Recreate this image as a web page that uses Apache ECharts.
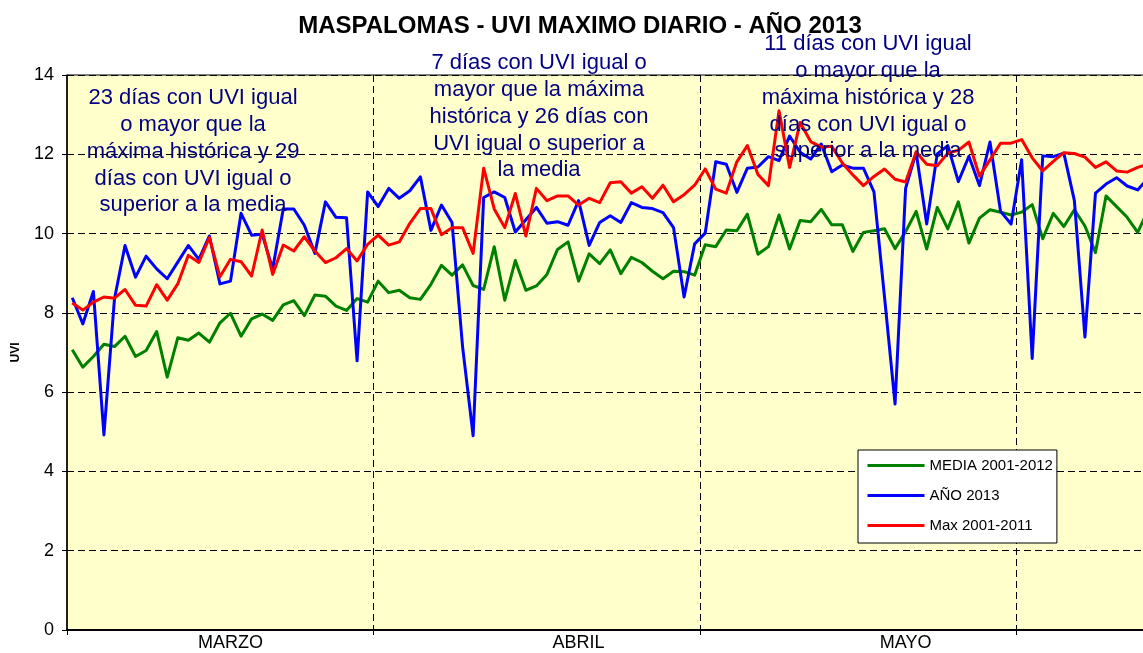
<!DOCTYPE html>
<html>
<head>
<meta charset="utf-8">
<title>Maspalomas UVI 2013</title>
<script src="https://cdn.jsdelivr.net/npm/echarts@6/dist/echarts.min.js"></script>
<style>
  html, body { margin: 0; padding: 0; overflow: hidden; background: #fff; }
  #chart { width: 1160px; height: 653px; }
</style>
</head>
<body>
<div id="chart"></div>
<script>
// datos diarios (1 punto por dia)
const media = [7.07, 6.63, 6.9, 7.21, 7.15, 7.41, 6.9, 7.05, 7.53, 6.38,
  7.37, 7.31, 7.49, 7.26, 7.75, 7.99, 7.41, 7.85, 7.97, 7.81,
  8.2, 8.31, 7.93, 8.45, 8.42, 8.17, 8.06, 8.36, 8.27, 8.8,
  8.51, 8.57, 8.38, 8.34, 8.72, 9.2, 8.95, 9.21, 8.69, 8.59,
  9.67, 8.32, 9.32, 8.57, 8.68, 8.97, 9.6, 9.79, 8.8, 9.49,
  9.24, 9.59, 8.99, 9.4, 9.27, 9.05, 8.86, 9.05, 9.04, 8.95,
  9.72, 9.67, 10.09, 10.07, 10.49, 9.48, 9.67, 10.47, 9.61, 10.33,
  10.3, 10.61, 10.22, 10.22, 9.55, 10.03, 10.07, 10.12, 9.62, 10.05,
  10.56, 9.61, 10.66, 10.12, 10.8, 9.76, 10.39, 10.6, 10.54, 10.47,
  10.54, 10.73, 9.87, 10.51, 10.18, 10.6, 10.19, 9.52, 10.95, 10.68,
  10.41, 10.03, 10.6];

const anio2013 = [8.38, 7.72, 8.54, 4.92, 8.35, 9.7, 8.9, 9.43, 9.11, 8.86,
  9.28, 9.7, 9.35, 9.94, 8.73, 8.8, 10.51, 9.96, 9.98, 9.11,
  10.62, 10.62, 10.21, 9.5, 10.8, 10.41, 10.4, 6.79, 11.05, 10.68,
  11.14, 10.89, 11.08, 11.43, 10.08, 10.72, 10.28, 7.15, 4.9, 10.91,
  11.05, 10.91, 10.04, 10.35, 10.66, 10.26, 10.3, 10.21, 10.83, 9.7,
  10.28, 10.45, 10.28, 10.78, 10.66, 10.63, 10.53, 10.15, 8.4, 9.74,
  10.01, 11.81, 11.75, 11.04, 11.65, 11.68, 11.94, 11.84, 12.46, 12.05,
  11.88, 12.26, 11.56, 11.73, 11.65, 11.65, 11.05, 8.4, 5.7, 11.14,
  12.05, 10.24, 12.01, 12.22, 11.31, 11.95, 11.21, 12.31, 10.56, 10.24,
  11.86, 6.85, 11.96, 11.94, 12.03, 10.83, 7.39, 11.02, 11.25, 11.41,
  11.2, 11.1, 11.4];

const max20012011 = [8.25, 8.07, 8.27, 8.4, 8.37, 8.59, 8.19, 8.17, 8.71, 8.32,
  8.73, 9.45, 9.27, 9.9, 8.91, 9.35, 9.29, 8.93, 10.09, 8.97,
  9.71, 9.56, 9.92, 9.56, 9.27, 9.39, 9.62, 9.31, 9.73, 9.96,
  9.71, 9.79, 10.26, 10.63, 10.63, 9.97, 10.15, 10.15, 9.5, 11.65,
  10.62, 10.15, 11.01, 9.94, 11.14, 10.83, 10.95, 10.95, 10.72, 10.89,
  10.78, 11.28, 11.31, 11.02, 11.18, 10.89, 11.22, 10.8, 10.98, 11.22,
  11.63, 11.12, 11.02, 11.81, 12.22, 11.49, 11.21, 13.1, 11.67, 12.8,
  12.32, 12.18, 12.2, 11.78, 11.48, 11.21, 11.44, 11.63, 11.37, 11.3,
  12.06, 11.75, 11.71, 12.03, 12.1, 12.31, 11.45, 11.86, 12.28, 12.28,
  12.37, 11.91, 11.58, 11.82, 12.04, 12.02, 11.93, 11.67, 11.81, 11.58,
  11.55, 11.67, 11.75];

// meses del eje x
const monthNames = ['MARZO', 'ABRIL', 'MAYO'];
const monthLabelDay = [15, 48, 79];   // dia donde va la etiqueta
const monthStartDay = [29, 60, 90];   // separadores entre meses

const seriesNames = ['MEDIA 2001-2012', 'AÑO 2013', 'Max 2001-2011'];

const notes = [
  '23 días con UVI igual\no mayor que la\nmáxima histórica y 29\ndías con UVI igual o\nsuperior a la media',
  '7 días con UVI igual o\nmayor que la máxima\nhistórica y 26 días con\nUVI igual o superior a\nla media',
  '11 días con UVI igual\no mayor que la\nmáxima histórica y 28\ndías con UVI igual o\nsuperior a la media'
];

const days = media.map((v, i) => {
  const m = monthLabelDay.indexOf(i);
  return m >= 0 ? monthNames[m] : '';
});

const font = "'Liberation Sans', Arial, sans-serif";
const colors = ['#008000', '#0000ff', '#ff0000'];

const chart = echarts.init(document.getElementById('chart'));

const option = {
  animation: false,
  textStyle: { fontFamily: font },
  title: {
    text: 'MASPALOMAS - UVI MAXIMO DIARIO - AÑO 2013',
    left: 'center',
    top: 9,
    textStyle: { fontSize: 24, fontWeight: 'bold', color: '#000', fontFamily: font }
  },
  grid: {
    left: 67,
    right: 6.5,
    top: 75,
    bottom: 23,
    show: true,
    backgroundColor: '#ffffcc',
    borderColor: '#000',
    borderWidth: 1
  },
  legend: {
    orient: 'vertical',
    left: 858,
    top: 450,
    data: seriesNames,
    backgroundColor: '#fff',
    borderColor: '#000',
    borderWidth: 1,
    borderRadius: 0,
    padding: [8, 4, 10, 8],
    itemWidth: 57,
    itemHeight: 14,
    itemGap: 15,
    itemStyle: { opacity: 0 },
    lineStyle: { width: 3 },
    textStyle: { fontSize: 15, color: '#000', fontFamily: font }
  },
  xAxis: {
    type: 'category',
    data: days,
    boundaryGap: true,
    axisLine: { lineStyle: { color: '#000', width: 2 } },
    axisTick: {
      show: true,
      length: 5,
      interval: (i) => i === 0 || monthStartDay.includes(i),
      lineStyle: { color: '#000' }
    },
    axisLabel: { interval: 0, color: '#000', fontSize: 18, margin: 4, fontFamily: font },
    splitLine: {
      show: true,
      interval: (i) => monthStartDay.includes(i),
      lineStyle: { color: '#000', type: [7, 4], width: 1 }
    }
  },
  yAxis: {
    type: 'value',
    min: 0,
    max: 14,
    interval: 2,
    name: 'UVI',
    nameLocation: 'middle',
    nameGap: 45,
    nameTextStyle: { fontSize: 12, fontWeight: 'bold', color: '#000', fontFamily: font },
    axisLine: { show: true, lineStyle: { color: '#000', width: 1.5 } },
    axisTick: { show: true, length: 5, lineStyle: { color: '#000' } },
    axisLabel: { color: '#000', fontSize: 18, margin: 13, fontFamily: font },
    splitLine: { show: true, lineStyle: { color: '#000', type: [7, 4], width: 1 } }
  },
  series: [media, anio2013, max20012011].map((d, i) => ({
    name: seriesNames[i],
    type: 'line',
    data: d,
    symbol: 'none',
    showSymbol: false,
    color: colors[i],
    lineStyle: { color: colors[i], width: 3, join: 'round' }
  })),
  graphic: [
    { x: 193, y: 85, text: notes[0] },
    { x: 539, y: 50, text: notes[1] },
    { x: 868, y: 31, text: notes[2] }
  ].map(n => ({
    type: 'text',
    z: 100,
    x: n.x,
    y: n.y,
    style: {
      text: n.text,
      fill: '#000080',
      font: '22px ' + font,
      align: 'center',
      verticalAlign: 'top',
      lineHeight: 26.7
    }
  }))
};

chart.setOption(option);
</script>
</body>
</html>
